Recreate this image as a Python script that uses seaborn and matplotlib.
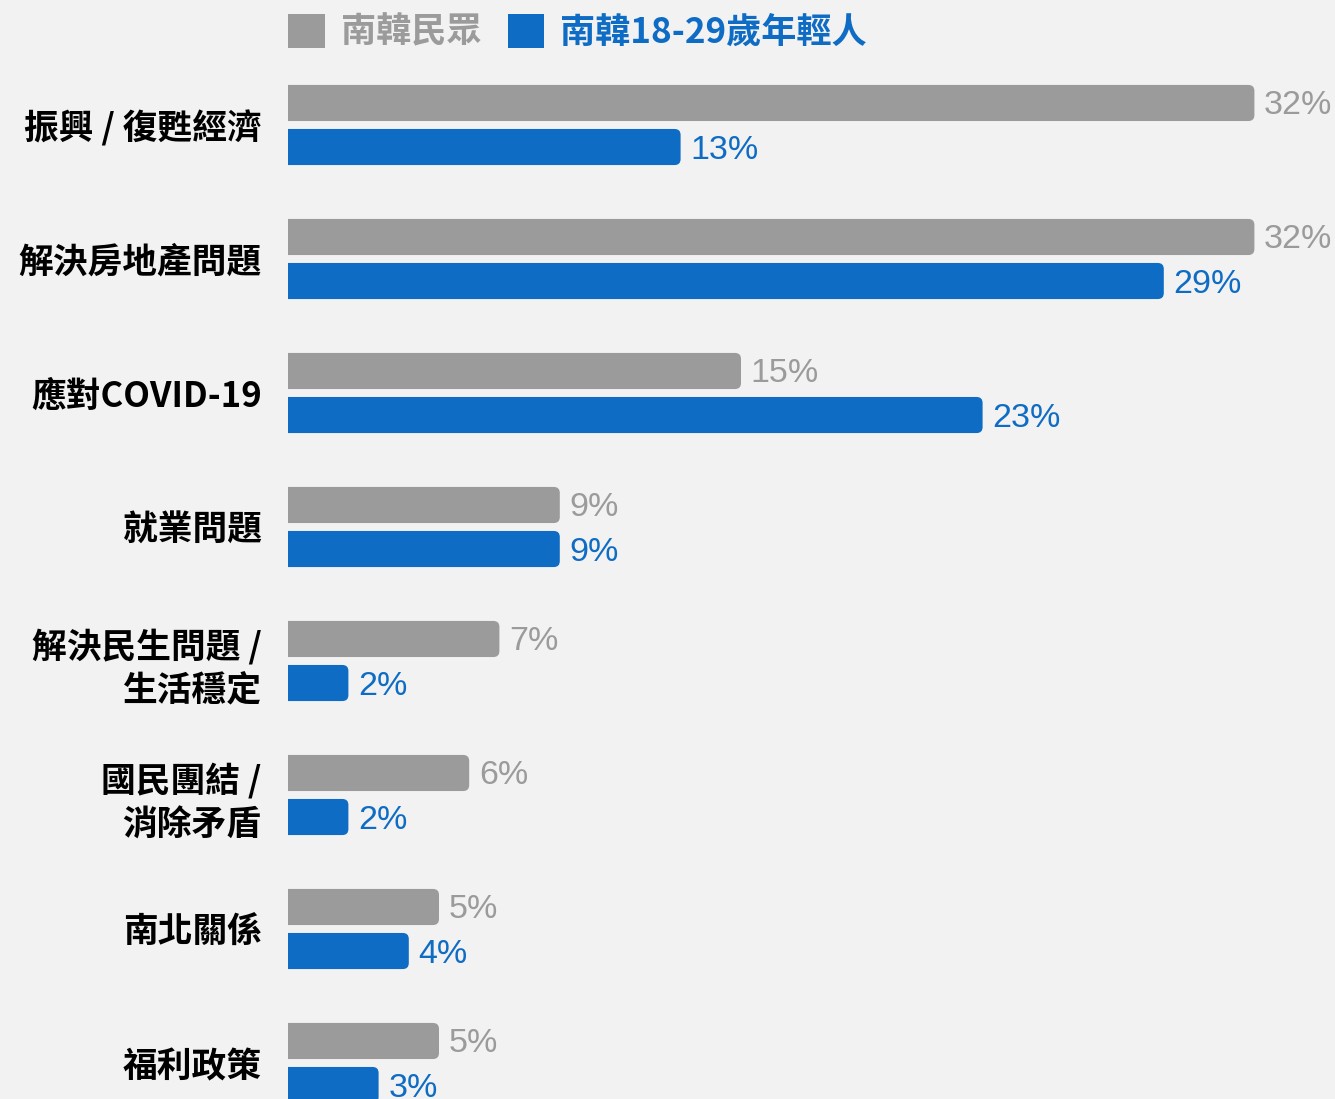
import pandas as pd
import numpy as np
import seaborn as sns
import matplotlib.pyplot as plt
from matplotlib.patches import FancyBboxPatch, Patch

# data
categories = ['振興 / 復甦經濟', '解決房地產問題', '應對COVID-19', '就業問題',
              '解決民生問題 /\n生活穩定', '國民團結 /\n消除矛盾', '南北關係', '福利政策']
groups = ['南韓民眾', '南韓18-29歲年輕人']
all_public = [32, 32, 15, 9, 7, 6, 5, 5]
youth = [13, 29, 23, 9, 2, 2, 4, 3]

gray = '#9b9b9b'
blue = '#0f6cc4'
bg = '#f2f2f2'

df = pd.DataFrame({
    'cat': categories * 2,
    'val': all_public + youth,
    'grp': [groups[0]] * len(categories) + [groups[1]] * len(categories),
})

sns.set_theme(style='white')
plt.rcParams['font.family'] = ['Noto Sans CJK TC', 'DejaVu Sans']

fig = plt.figure(figsize=(13.35, 10.99), dpi=100, facecolor=bg)
ax = fig.add_axes([288 / 1335, 0, 1 - 288 / 1335, 1])
ax.set_facecolor(bg)

sns.barplot(data=df, y='cat', x='val', hue='grp', order=categories, hue_order=groups,
            palette=[gray, blue], width=0.657, gap=0.18, orient='h', legend=False, ax=ax,
            errorbar=None, saturation=1)

# value labels
for i, (cont, col) in enumerate(zip(ax.containers, [gray, blue])):
    anns = ax.bar_label(cont, labels=[f'{v:.0f}%' for v in cont.datavalues], padding=7,
                        color=col, fontsize=24.5, family=['Liberation Sans', 'DejaVu Sans'])
    for a in anns:
        a.xyann = (7, -1.5 if i == 0 else -2.5)

# rounded right ends
r = 0.2
for p in list(ax.patches):
    x, y, w, h = p.get_x(), p.get_y(), p.get_width(), p.get_height()
    p.set_visible(False)
    fb = FancyBboxPatch((x - r * 2, y), w + r * 2, h,
                        boxstyle=f'round,pad=0,rounding_size={r}',
                        mutation_aspect=0.224, facecolor=p.get_facecolor(),
                        edgecolor='none', linewidth=0)
    ax.add_patch(fb)

ax.set_xlim(0, 1047 / 30.2)
ax.set_ylim((1099 - 125) / 134, -125 / 134)
ax.set_xlabel('')
ax.set_ylabel('')
ax.set_xticks([])
ax.tick_params(axis='y', length=0, pad=19)
for t in ax.get_yticklabels():
    t.set_fontsize(25)
    t.set_fontweight('bold')
    t.set_color('black')
    t.set_linespacing(1.3)
sns.despine(ax=ax, left=True, bottom=True)

handles = [Patch(facecolor=gray, edgecolor='none'), Patch(facecolor=blue, edgecolor='none')]
leg = ax.legend(handles, groups, loc='upper left', bbox_to_anchor=(0, 1 - 14 / 1099),
                ncol=2, frameon=False, borderpad=0, borderaxespad=0,
                handlelength=1.05, handleheight=1.1, handletextpad=0.45, columnspacing=0.75,
                prop={'size': 25.3, 'weight': 'bold'})
for txt, col in zip(leg.get_texts(), [gray, blue]):
    txt.set_color(col)

fig.savefig('out.png', dpi=100, facecolor=bg)
